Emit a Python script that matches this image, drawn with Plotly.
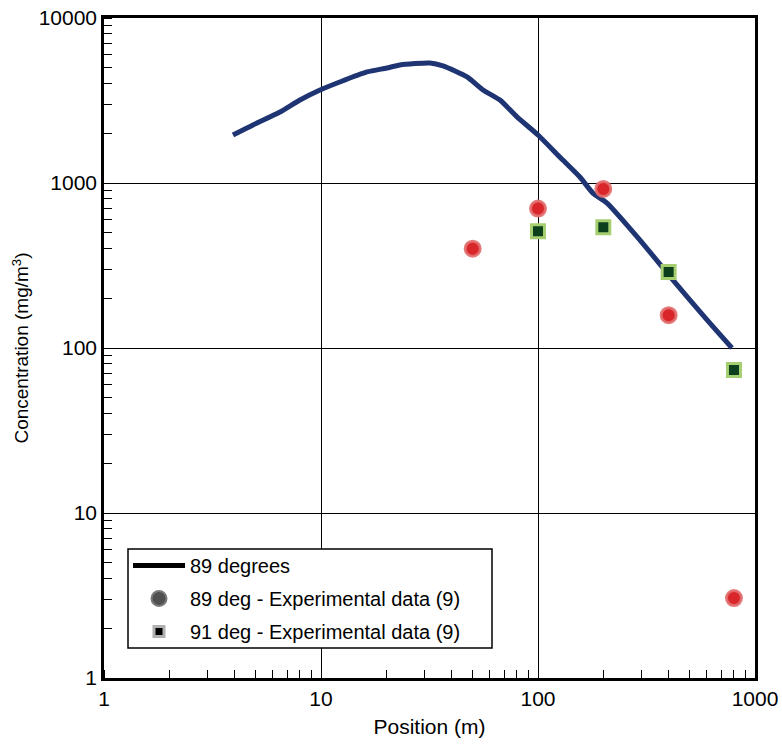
import plotly.graph_objects as go

# Model curve: 89 degrees
model_x = [3.93, 4.86, 6.47, 8.0, 9.9, 12.2, 16.3, 20.1, 23.1, 31.8, 36.5, 47.1, 55.8, 66.8, 80.0,
           100, 126, 156, 179, 208, 295, 419, 601, 783]
model_y = [1954, 2248, 2692, 3185, 3660, 4093, 4710, 4977, 5190, 5335, 5120, 4390, 3660, 3185, 2514,
           1954, 1437, 1087, 869, 756, 451, 258, 148, 100]

# Experimental data (9)
exp89_x = [50, 100, 200, 400, 800]
exp89_y = [400, 700, 920, 158, 3.05]

exp91_x = [100, 200, 400, 800]
exp91_y = [510, 540, 289, 73.6]

FONT = "Liberation Sans, Arial, Helvetica, sans-serif"

fig = go.Figure()

# plotted marks (legend entries are drawn separately in grey tones)
fig.add_trace(go.Scatter(x=model_x, y=model_y, mode="lines",
                         line=dict(color="#1f3472", width=5, shape="spline", smoothing=0.6),
                         showlegend=False, hoverinfo="x+y"))
fig.add_trace(go.Scatter(x=exp89_x, y=exp89_y, mode="markers",
                         marker=dict(symbol="circle", size=15, color="#d8262a",
                                     line=dict(color="rgba(226,110,110,0.9)", width=3)),
                         showlegend=False))
fig.add_trace(go.Scatter(x=exp91_x, y=exp91_y, mode="markers",
                         marker=dict(symbol="square", size=13, color="#0c3f1c",
                                     line=dict(color="#a6cf72", width=3)),
                         showlegend=False))

# legend keys
fig.add_trace(go.Scatter(x=[None], y=[None], mode="lines", name="89 degrees",
                         legendgroup="a", line=dict(color="#000000", width=5)))
fig.add_trace(go.Scatter(x=[None], y=[None], mode="markers",
                         name="89 deg - Experimental data (9)", legendgroup="b",
                         marker=dict(symbol="circle", size=15, color="#505050",
                                     line=dict(color="#7a7a7a", width=2))))
fig.add_trace(go.Scatter(x=[None], y=[None], mode="markers",
                         name="91 deg - Experimental data (9)", legendgroup="c",
                         marker=dict(symbol="square", size=10, color="#000000",
                                     line=dict(color="#b0b0b0", width=3))))

axis_common = dict(
    type="log",
    showline=True, linecolor="black", linewidth=2.5, mirror=True,
    showgrid=True, gridcolor="black", gridwidth=1,
    ticks="", zeroline=False,
    tickfont=dict(family=FONT, size=21, color="black"),
    minor=dict(ticks="inside", ticklen=8, tickwidth=1, tickcolor="black",
               dtick="D1", showgrid=False),
)

fig.update_xaxes(
    **axis_common,
    range=[0, 3],
    tickmode="array", tickvals=[1, 10, 100, 1000], ticktext=["1", "10", "100", "1000"],
    title=dict(text="Position (m)", font=dict(family=FONT, size=21, color="black"), standoff=11),
)
fig.update_yaxes(
    **axis_common,
    range=[0, 4],
    tickmode="array", tickvals=[1, 10, 100, 1000, 10000],
    ticktext=["1", "10", "100", "1000", "10000"],
    title=dict(text="Concentration (mg/m<sup>3</sup>)",
               font=dict(family=FONT, size=19, color="black"), standoff=5),
)

# legend frame
fig.add_shape(type="rect", xref="paper", yref="paper",
              x0=(128 - 104) / 651, x1=(492 - 104) / 651,
              y0=(678 - 648) / 660, y1=(678 - 549) / 660,
              fillcolor="white", line=dict(color="black", width=1.5), layer="above")

fig.update_layout(
    width=782, height=746,
    margin=dict(l=104, r=27, t=18, b=68, autoexpand=False),
    paper_bgcolor="white", plot_bgcolor="white",
    font=dict(family=FONT, size=21, color="black"),
    legend=dict(x=(128 - 104) / 651, y=(678 - 546) / 660, xanchor="left", yanchor="top",
                bgcolor="rgba(0,0,0,0)", borderwidth=0,
                font=dict(family=FONT, size=20, color="black"),
                itemwidth=52, tracegroupgap=4),
    showlegend=True,
)

fig.write_html("out.html")
